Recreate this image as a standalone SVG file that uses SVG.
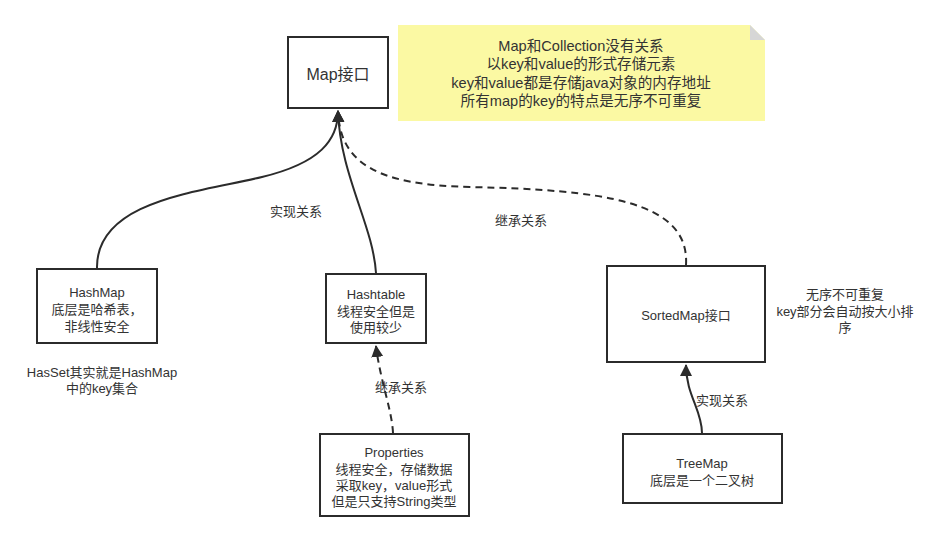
<svg xmlns="http://www.w3.org/2000/svg" width="938" height="541" viewBox="0 0 938 541">
<style>
.box{fill:#fff;stroke:#2b2b2b;stroke-width:2}
.t{font-family:"Liberation Sans","Noto Sans CJK SC",sans-serif;font-size:13px;fill:#333;text-anchor:middle}
.big{font-size:16px}
.note{font-size:14.6px}
.ln{fill:none;stroke:#2b2b2b;stroke-width:2}
.dash{stroke-dasharray:7 5}
</style>
<defs>
<marker id="arr" markerUnits="userSpaceOnUse" markerWidth="12" markerHeight="16" viewBox="0 0 12 16" refX="11" refY="8" orient="auto">
<path d="M0,2 L12,8 L0,14 Z" fill="#2b2b2b"/>
</marker>
</defs>
<rect width="938" height="541" fill="#fff"/>
<g id="note">
<path d="M398,25 H750 L765,40 V121 H398 Z" fill="#fbf9a3"/>
<path d="M750,25 L765,40 H750 Z" fill="#d6d6d6"/>
<text class="t note" x="581" y="51">Map和Collection没有关系</text>
<text class="t note" x="581" y="69">以key和value的形式存储元素</text>
<text class="t note" x="581" y="88">key和value都是存储java对象的内存地址</text>
<text class="t note" x="581" y="106">所有map的key的特点是无序不可重复</text>
</g>
<g id="connectors">
<path class="ln" d="M97,268 C96,200 200,192 262,177 C320,163 338,140 338,111" marker-end="url(#arr)"/>
<path class="ln" d="M376,273 C373,225 340,175 338,111" marker-end="url(#arr)"/>
<path class="ln dash" d="M686,265 C690,200 600,190 470,187 C380,185 340,165 338,111" marker-end="url(#arr)"/>
<path class="ln dash" d="M393,433 C392,410 380,380 376,346" marker-end="url(#arr)"/>
<path class="ln" d="M702,433 C702,410 686,395 686,365" marker-end="url(#arr)"/>
<text class="t" x="296" y="216">实现关系</text>
<text class="t" x="521" y="225">继承关系</text>
<text class="t" x="401" y="392">继承关系</text>
<text class="t" x="722" y="405">实现关系</text>
</g>
<g id="map">
<rect class="box" x="288" y="37" width="100" height="71"/>
<text class="t big" x="338" y="80">Map接口</text>
</g>
<g id="hashmap">
<rect class="box" x="37" y="269" width="120" height="74"/>
<text class="t" x="97" y="297">HashMap</text>
<text class="t" x="97" y="314">底层是哈希表，</text>
<text class="t" x="97" y="331">非线性安全</text>
</g>
<g id="hasset-note">
<text class="t" x="102" y="377">HasSet其实就是HashMap</text>
<text class="t" x="102" y="393">中的key集合</text>
</g>
<g id="hashtable">
<rect class="box" x="326" y="274" width="100" height="69"/>
<text class="t" x="376" y="299">Hashtable</text>
<text class="t" x="376" y="316">线程安全但是</text>
<text class="t" x="376" y="332">使用较少</text>
</g>
<g id="properties">
<rect class="box" x="320" y="434" width="149" height="82"/>
<text class="t" x="394" y="457">Properties</text>
<text class="t" x="394" y="474">线程安全，存储数据</text>
<text class="t" x="394" y="490">采取key，value形式</text>
<text class="t" x="394" y="506">但是只支持String类型</text>
</g>
<g id="sortedmap">
<rect class="box" x="607" y="266" width="158" height="96"/>
<text class="t" x="686" y="320">SortedMap接口</text>
</g>
<g id="sortedmap-note">
<text class="t" x="845" y="299">无序不可重复</text>
<text class="t" x="845" y="316">key部分会自动按大小排</text>
<text class="t" x="845" y="332">序</text>
</g>
<g id="treemap">
<rect class="box" x="623" y="434" width="159" height="69"/>
<text class="t" x="702" y="468">TreeMap</text>
<text class="t" x="702" y="485">底层是一个二叉树</text>
</g>
</svg>
